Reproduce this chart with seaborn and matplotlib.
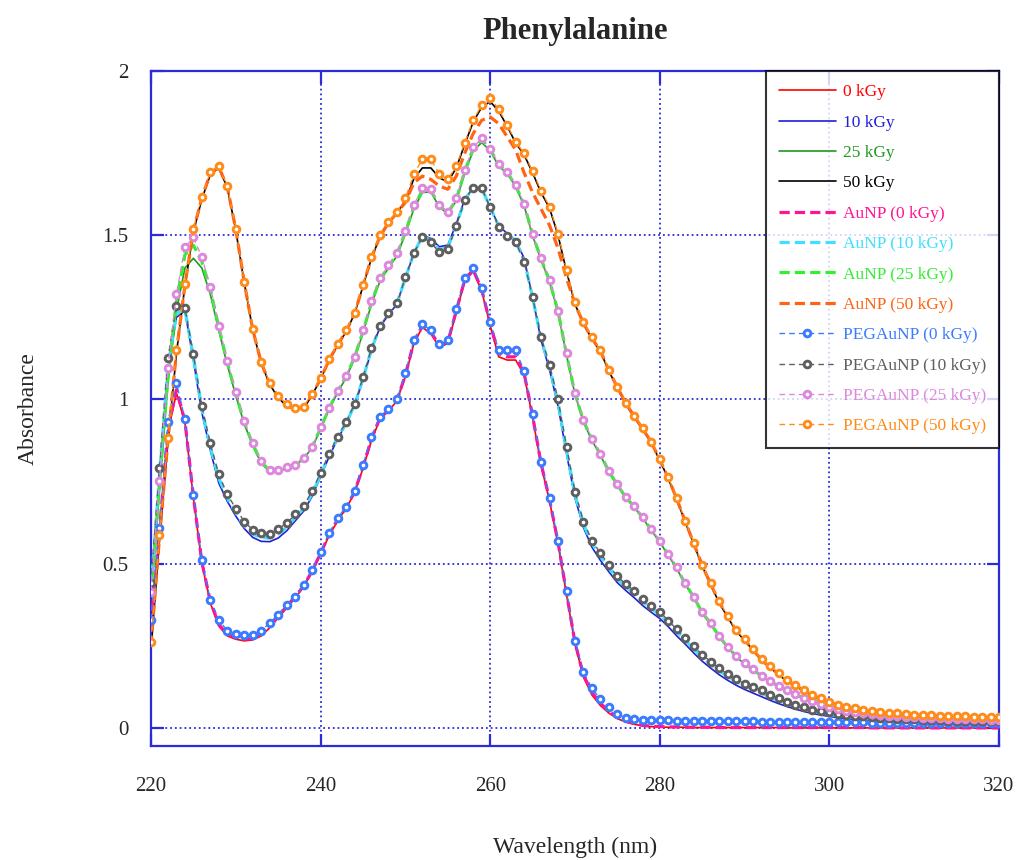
import numpy as np
import matplotlib
matplotlib.use("Agg")
import matplotlib.pyplot as plt
import seaborn as sns

# wavelength grid (nm), one reading per nm
wavelength = list(range(220, 321))

# --- irradiated phenylalanine (solid) ---
abs_0kGy = [0.30, 0.60, 0.90, 1.02, 0.93, 0.70, 0.50, 0.38, 0.31, 0.28,
            0.27, 0.265, 0.268, 0.28, 0.305, 0.335, 0.365, 0.395, 0.43, 0.475,
            0.53, 0.585, 0.63, 0.668, 0.715, 0.79, 0.875, 0.94, 0.965, 0.995,
            1.07, 1.17, 1.22, 1.20, 1.16, 1.17, 1.265, 1.36, 1.39, 1.33,
            1.225, 1.13, 1.12, 1.12, 1.075, 0.945, 0.80, 0.69, 0.56, 0.405,
            0.255, 0.155, 0.10, 0.068, 0.045, 0.028, 0.018, 0.011, 0.006, 0.004,
            0.003, 0.002, 0.002, 0.002, 0.001, 0.001, 0.001, 0.001, 0.001, 0.001,
            0.001, 0.001, 0.001, 0.001, 0.001, 0.0, 0.0, 0.0, 0.0, 0.0,
            0.0, 0.0, 0.0, 0.0, 0.0, 0.0, 0.0, 0.0, 0.0, 0.0,
            0.0, 0.0, 0.0, 0.0, 0.0, 0.0, 0.0, 0.0, 0.0, 0.0, 0.0]
abs_10kGy = [0.40, 0.76, 1.09, 1.25, 1.27, 1.12, 0.96, 0.845, 0.745, 0.69,
             0.645, 0.607, 0.58, 0.568, 0.567, 0.578, 0.60, 0.63, 0.66, 0.705,
             0.765, 0.825, 0.88, 0.925, 0.98, 1.06, 1.15, 1.22, 1.258, 1.29,
             1.37, 1.445, 1.50, 1.49, 1.465, 1.47, 1.535, 1.61, 1.645, 1.64,
             1.585, 1.53, 1.505, 1.485, 1.43, 1.31, 1.18, 1.09, 0.98, 0.835,
             0.70, 0.61, 0.55, 0.51, 0.475, 0.442, 0.418, 0.396, 0.372, 0.352,
             0.333, 0.308, 0.28, 0.255, 0.228, 0.203, 0.182, 0.162, 0.145, 0.13,
             0.117, 0.106, 0.095, 0.084, 0.074, 0.065, 0.057, 0.05, 0.044, 0.039,
             0.035, 0.031, 0.028, 0.026, 0.024, 0.022, 0.021, 0.02, 0.019, 0.018,
             0.017, 0.016, 0.016, 0.015, 0.015, 0.014, 0.014, 0.013, 0.013, 0.013, 0.012]
abs_25kGy = [0.38, 0.72, 1.05, 1.27, 1.40, 1.43, 1.40, 1.32, 1.21, 1.105,
             1.012, 0.925, 0.86, 0.806, 0.78, 0.78, 0.79, 0.797, 0.82, 0.853,
             0.91, 0.97, 1.02, 1.066, 1.124, 1.203, 1.29, 1.36, 1.40, 1.437,
             1.505, 1.58, 1.63, 1.632, 1.586, 1.565, 1.605, 1.69, 1.758, 1.782,
             1.758, 1.71, 1.688, 1.648, 1.59, 1.498, 1.425, 1.358, 1.265, 1.135,
             1.015, 0.932, 0.875, 0.83, 0.778, 0.737, 0.70, 0.671, 0.638, 0.601,
             0.566, 0.525, 0.485, 0.437, 0.397, 0.349, 0.316, 0.277, 0.244, 0.217,
             0.194, 0.176, 0.156, 0.14, 0.125, 0.111, 0.1, 0.089, 0.079, 0.07,
             0.062, 0.056, 0.05, 0.046, 0.043, 0.04, 0.037, 0.035, 0.033, 0.031,
             0.03, 0.029, 0.028, 0.027, 0.026, 0.025, 0.025, 0.024, 0.024, 0.023, 0.023]
abs_50kGy = [0.237, 0.57, 0.87, 1.14, 1.345, 1.51, 1.61, 1.685, 1.705, 1.645,
             1.515, 1.355, 1.212, 1.11, 1.046, 1.005, 0.98, 0.968, 0.972, 1.013,
             1.062, 1.118, 1.165, 1.206, 1.26, 1.345, 1.43, 1.495, 1.537, 1.568,
             1.605, 1.672, 1.705, 1.705, 1.675, 1.662, 1.705, 1.777, 1.845, 1.89,
             1.907, 1.878, 1.832, 1.781, 1.745, 1.69, 1.63, 1.582, 1.50, 1.39,
             1.29, 1.23, 1.184, 1.146, 1.086, 1.035, 0.986, 0.946, 0.908, 0.868,
             0.814, 0.759, 0.695, 0.627, 0.56, 0.493, 0.436, 0.381, 0.337, 0.295,
             0.266, 0.236, 0.205, 0.183, 0.162, 0.142, 0.127, 0.112, 0.097, 0.087,
             0.077, 0.067, 0.062, 0.057, 0.052, 0.047, 0.045, 0.043, 0.041, 0.039,
             0.037, 0.036, 0.035, 0.034, 0.033, 0.032, 0.032, 0.031, 0.031, 0.03, 0.03]

# --- with gold nanoparticles (thick dashed) ---
aunp_0kGy = [0.31, 0.60, 0.91, 1.03, 0.935, 0.705, 0.505, 0.385, 0.315, 0.285,
             0.275, 0.27, 0.272, 0.285, 0.31, 0.34, 0.37, 0.40, 0.432, 0.478,
             0.532, 0.588, 0.634, 0.67, 0.718, 0.795, 0.88, 0.944, 0.967, 0.997,
             1.075, 1.175, 1.225, 1.205, 1.165, 1.175, 1.27, 1.365, 1.395, 1.335,
             1.23, 1.14, 1.13, 1.13, 1.08, 0.95, 0.805, 0.695, 0.565, 0.41,
             0.26, 0.16, 0.108, 0.075, 0.05, 0.032, 0.02, 0.013, 0.008, 0.005,
             0.004, 0.003, 0.003, 0.002, 0.002, 0.002, 0.002, 0.001, 0.001, 0.001,
             0.001, 0.001, 0.001, 0.001, 0.001, 0.001, 0.001, 0.001, 0.001, 0.001,
             0.001, 0.001, 0.001, 0.001, 0.001, 0.0, 0.0, 0.0, 0.0, 0.0,
             0.0, 0.0, 0.0, 0.0, 0.0, 0.0, 0.0, 0.0, 0.0, 0.0, 0.0]
aunp_10kGy = [0.42, 0.77, 1.10, 1.26, 1.275, 1.13, 0.97, 0.855, 0.76, 0.70,
              0.655, 0.615, 0.59, 0.58, 0.578, 0.59, 0.61, 0.64, 0.668, 0.713,
              0.77, 0.83, 0.883, 0.928, 0.983, 1.063, 1.153, 1.222, 1.26, 1.292,
              1.37, 1.445, 1.497, 1.485, 1.456, 1.463, 1.53, 1.608, 1.645, 1.642,
              1.585, 1.528, 1.502, 1.482, 1.425, 1.31, 1.185, 1.098, 0.99, 0.845,
              0.71, 0.62, 0.562, 0.522, 0.487, 0.454, 0.43, 0.41, 0.384, 0.364,
              0.345, 0.319, 0.292, 0.267, 0.24, 0.215, 0.194, 0.174, 0.157, 0.141,
              0.128, 0.117, 0.106, 0.094, 0.083, 0.073, 0.064, 0.057, 0.05, 0.045,
              0.041, 0.037, 0.034, 0.031, 0.029, 0.027, 0.026, 0.024, 0.023, 0.022,
              0.021, 0.02, 0.019, 0.019, 0.018, 0.018, 0.017, 0.017, 0.016, 0.016, 0.016]
aunp_25kGy = [0.40, 0.74, 1.07, 1.30, 1.44, 1.47, 1.42, 1.335, 1.22, 1.112,
              1.018, 0.93, 0.864, 0.81, 0.783, 0.783, 0.792, 0.799, 0.821, 0.855,
              0.913, 0.973, 1.024, 1.07, 1.128, 1.207, 1.296, 1.366, 1.405, 1.442,
              1.51, 1.587, 1.637, 1.637, 1.59, 1.569, 1.609, 1.695, 1.764, 1.79,
              1.762, 1.714, 1.692, 1.651, 1.594, 1.502, 1.428, 1.361, 1.268, 1.138,
              1.018, 0.935, 0.878, 0.833, 0.781, 0.74, 0.702, 0.673, 0.64, 0.603,
              0.568, 0.527, 0.487, 0.439, 0.399, 0.351, 0.318, 0.279, 0.246, 0.219,
              0.196, 0.178, 0.158, 0.142, 0.127, 0.113, 0.102, 0.091, 0.081, 0.072,
              0.064, 0.058, 0.051, 0.047, 0.044, 0.041, 0.038, 0.036, 0.034, 0.032,
              0.031, 0.03, 0.029, 0.028, 0.027, 0.026, 0.026, 0.025, 0.025, 0.024, 0.024]
aunp_50kGy = [0.25, 0.58, 0.875, 1.145, 1.348, 1.514, 1.614, 1.688, 1.708, 1.647,
              1.518, 1.357, 1.213, 1.112, 1.048, 1.008, 0.983, 0.97, 0.975, 1.015,
              1.063, 1.12, 1.166, 1.207, 1.261, 1.346, 1.432, 1.497, 1.538, 1.568,
              1.60, 1.66, 1.68, 1.67, 1.65, 1.64, 1.68, 1.75, 1.81, 1.85,
              1.86, 1.84, 1.80, 1.76, 1.69, 1.63, 1.58, 1.53, 1.46, 1.37,
              1.29, 1.232, 1.186, 1.148, 1.088, 1.037, 0.988, 0.948, 0.91, 0.87,
              0.816, 0.761, 0.697, 0.629, 0.562, 0.495, 0.438, 0.383, 0.339, 0.296,
              0.268, 0.238, 0.207, 0.185, 0.164, 0.144, 0.129, 0.114, 0.099, 0.089,
              0.079, 0.069, 0.064, 0.059, 0.054, 0.049, 0.047, 0.045, 0.043, 0.041,
              0.039, 0.038, 0.037, 0.036, 0.035, 0.034, 0.034, 0.033, 0.033, 0.032, 0.032]

# --- with PEG-coated gold nanoparticles (thin dashed + markers) ---
peg_0kGy = [0.33, 0.61, 0.93, 1.05, 0.94, 0.71, 0.51, 0.39, 0.33, 0.295,
            0.285, 0.283, 0.283, 0.295, 0.32, 0.345, 0.375, 0.40, 0.435, 0.48,
            0.535, 0.593, 0.638, 0.674, 0.722, 0.80, 0.887, 0.948, 0.97, 1.00,
            1.08, 1.18, 1.23, 1.21, 1.17, 1.18, 1.275, 1.37, 1.40, 1.34,
            1.235, 1.15, 1.15, 1.15, 1.087, 0.955, 0.81, 0.70, 0.57, 0.417,
            0.265, 0.17, 0.12, 0.088, 0.064, 0.043, 0.03, 0.027, 0.025, 0.024,
            0.023, 0.023, 0.022, 0.022, 0.022, 0.021, 0.021, 0.021, 0.02, 0.02,
            0.02, 0.02, 0.019, 0.019, 0.019, 0.019, 0.018, 0.018, 0.018, 0.018,
            0.018, 0.017, 0.017, 0.017, 0.017, 0.016, 0.016, 0.016, 0.016, 0.016,
            0.015, 0.015, 0.015, 0.015, 0.015, 0.014, 0.014, 0.014, 0.014, 0.014, 0.014]
peg_10kGy = [0.44, 0.79, 1.125, 1.286, 1.28, 1.137, 0.98, 0.866, 0.772, 0.711,
             0.668, 0.628, 0.603, 0.593, 0.59, 0.606, 0.623, 0.65, 0.675, 0.722,
             0.777, 0.835, 0.887, 0.93, 0.986, 1.067, 1.156, 1.224, 1.262, 1.293,
             1.372, 1.445, 1.494, 1.478, 1.448, 1.457, 1.528, 1.607, 1.645, 1.643,
             1.585, 1.526, 1.499, 1.479, 1.42, 1.311, 1.191, 1.105, 1.0, 0.856,
             0.719, 0.628, 0.57, 0.532, 0.495, 0.461, 0.438, 0.418, 0.391, 0.371,
             0.353, 0.327, 0.30, 0.275, 0.248, 0.223, 0.202, 0.182, 0.164, 0.15,
             0.134, 0.124, 0.114, 0.101, 0.09, 0.08, 0.07, 0.063, 0.055, 0.05,
             0.047, 0.043, 0.04, 0.037, 0.035, 0.033, 0.031, 0.03, 0.028, 0.027,
             0.026, 0.025, 0.024, 0.023, 0.022, 0.022, 0.021, 0.021, 0.02, 0.02, 0.02]
peg_25kGy = [0.415, 0.753, 1.095, 1.32, 1.463, 1.494, 1.433, 1.343, 1.225, 1.117,
             1.023, 0.934, 0.867, 0.813, 0.785, 0.785, 0.794, 0.80, 0.822, 0.856,
             0.915, 0.975, 1.027, 1.072, 1.13, 1.21, 1.30, 1.369, 1.409, 1.445,
             1.514, 1.592, 1.643, 1.641, 1.592, 1.572, 1.612, 1.699, 1.768, 1.795,
             1.764, 1.716, 1.694, 1.653, 1.596, 1.503, 1.43, 1.363, 1.27, 1.14,
             1.02, 0.938, 0.88, 0.835, 0.783, 0.742, 0.704, 0.675, 0.642, 0.605,
             0.57, 0.529, 0.489, 0.44, 0.40, 0.352, 0.319, 0.28, 0.247, 0.22,
             0.197, 0.179, 0.159, 0.143, 0.128, 0.114, 0.103, 0.092, 0.082, 0.073,
             0.065, 0.059, 0.052, 0.048, 0.045, 0.042, 0.039, 0.037, 0.035, 0.033,
             0.032, 0.031, 0.03, 0.029, 0.028, 0.027, 0.027, 0.026, 0.026, 0.025, 0.025]
peg_50kGy = [0.263, 0.588, 0.883, 1.151, 1.352, 1.518, 1.617, 1.692, 1.712, 1.649,
             1.52, 1.359, 1.215, 1.115, 1.051, 1.011, 0.986, 0.973, 0.978, 1.018,
             1.066, 1.122, 1.168, 1.21, 1.264, 1.349, 1.435, 1.50, 1.541, 1.572,
             1.612, 1.686, 1.731, 1.731, 1.686, 1.67, 1.711, 1.782, 1.851, 1.896,
             1.918, 1.884, 1.836, 1.785, 1.749, 1.695, 1.635, 1.587, 1.505, 1.394,
             1.296, 1.235, 1.189, 1.15, 1.09, 1.039, 0.99, 0.95, 0.912, 0.872,
             0.818, 0.763, 0.699, 0.631, 0.564, 0.497, 0.44, 0.385, 0.341, 0.298,
             0.27, 0.24, 0.209, 0.187, 0.166, 0.146, 0.131, 0.116, 0.10, 0.09,
             0.08, 0.07, 0.065, 0.06, 0.055, 0.05, 0.048, 0.046, 0.044, 0.042,
             0.04, 0.039, 0.038, 0.037, 0.036, 0.035, 0.035, 0.034, 0.034, 0.033, 0.033]

labels = ['0 kGy', '10 kGy', '25 kGy', '50 kGy',
          'AuNP (0 kGy)', 'AuNP (10 kGy)', 'AuNP (25 kGy)', 'AuNP (50 kGy)',
          'PEGAuNP (0 kGy)', 'PEGAuNP (10 kGy)', 'PEGAuNP (25 kGy)', 'PEGAuNP (50 kGy)']
series = [abs_0kGy, abs_10kGy, abs_25kGy, abs_50kGy,
          aunp_0kGy, aunp_10kGy, aunp_25kGy, aunp_50kGy,
          peg_0kGy, peg_10kGy, peg_25kGy, peg_50kGy]
colors = ['#ff0000', '#1f1fd6', '#1e9a1e', '#000000',
          '#ff1493', '#3fe0ff', '#33ee33', '#ff6414',
          '#3a7bff', '#5f5f5f', '#dd88dd', '#ff8c1a']

for s in series:
    assert len(s) == len(wavelength)

sns.set_style("white")
plt.rcParams['font.family'] = ['Liberation Serif', 'DejaVu Serif']

grid_blue = '#2b2bd9'

fig = plt.figure(figsize=(10.16, 8.6), dpi=100)
ax = fig.add_axes([0.1486, 0.1326, 0.8347, 0.7848])

for i, (lab, vals, col) in enumerate(zip(labels, series, colors)):
    if i < 4:
        sns.lineplot(x=wavelength, y=vals, ax=ax, color=col, linewidth=1.2,
                     label=lab, zorder=2)
    elif i < 8:
        sns.lineplot(x=wavelength, y=vals, ax=ax, color=col, linewidth=2.3,
                     linestyle=(0, (3.2, 1.6)), label=lab, zorder=3)
    else:
        sns.lineplot(x=wavelength, y=vals, ax=ax, color=col, linewidth=1.0,
                     linestyle=(0, (4, 3)), marker='o', markersize=4.8,
                     markerfacecolor='white', markeredgecolor=col,
                     markeredgewidth=2.1, label=lab, zorder=4)

ax.set_xlim(220, 320)
ax.set_ylim(-0.055, 2)
ax.set_xticks([220, 240, 260, 280, 300, 320])
ax.set_yticks([0, 0.5, 1, 1.5, 2])
ax.set_yticklabels(['0', '0.5', '1', '1.5', '2'])
ax.grid(True, color=grid_blue, linestyle=':', linewidth=1.3)
for sp in ax.spines.values():
    sp.set_color(grid_blue)
    sp.set_linewidth(1.6)
ax.tick_params(axis='both', direction='in', length=9, width=1.6, color=grid_blue,
               labelsize=15, top=True, right=True, left=True, bottom=True)
ax.tick_params(axis='x', pad=22)
ax.tick_params(axis='y', pad=16)

ax.set_title('Phenylalanine', fontsize=22, fontweight='bold', pad=23)
ax.set_xlabel('Wavelength (nm)', fontsize=17, va='center')
ax.set_ylabel('Absorbance', fontsize=17, va='center')
ax.xaxis.set_label_coords(0.5, -0.1496)
ax.yaxis.set_label_coords(-0.1450, 0.5)

leg = ax.legend(loc='upper right', bbox_to_anchor=(1.0, 1.0), borderaxespad=0,
                frameon=True, fancybox=False, fontsize=12.5, handlelength=3.3,
                labelspacing=0.82, borderpad=0.75, handletextpad=0.4)
leg.get_frame().set_edgecolor('black')
leg.get_frame().set_linewidth(1.5)
for txt, col in zip(leg.get_texts(), colors):
    txt.set_color(col)

fig.savefig('out.png', dpi=100)
